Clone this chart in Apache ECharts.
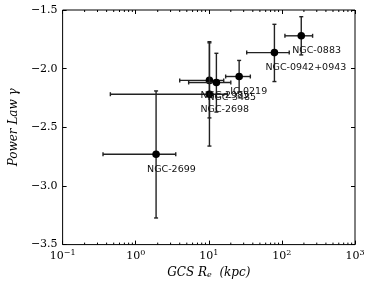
<!DOCTYPE html>
<html><head><meta charset="utf-8">
<script src="https://cdn.jsdelivr.net/npm/echarts@6/dist/echarts.min.js"></script>
<style>html,body{margin:0;padding:0;background:#fff}#c{width:374px;height:284px}</style>
</head><body><div id="c"></div>
<script>
var names = ['NGC-0883','NGC-0942+0943','IC-0219','NGC-2985','NGC-3485','NGC-2698','NGC-2699'];
var xVals = [184, 79, 26, 10.2, 12.7, 10.2, 1.9];
var xLow  = [110, 33, 17, 4.0, 5.3, 0.45, 0.357];
var xHigh = [263, 126, 37, 16, 20, 18, 3.53];
var yVals = [-1.72, -1.863, -2.067, -2.10, -2.118, -2.218, -2.73];
var yLow  = [-1.883, -2.110, -2.20, -2.42, -2.37, -2.66, -3.273];
var yHigh = [-1.557, -1.622, -1.93, -1.78, -1.869, -1.77, -2.19];
var xTicks = [0.1, 1, 10, 100, 1000];
var yTicks = [-3.5, -3.0, -2.5, -2.0, -1.5];

var data = names.map(function(n,i){return [xVals[i], yVals[i], xLow[i], xHigh[i], yLow[i], yHigh[i], n];});
var minorTicks = [];
for (var k = -1; k < 3; k++) for (var m = 2; m <= 9; m++) minorTicks.push([m*Math.pow(10,k)]);

var chart = echarts.init(document.getElementById('c'), null, {renderer:'canvas'});
var serif = '"DejaVu Serif", "Liberation Serif", serif';
var sup = {'-1':'−1','0':'0','1':'1','2':'2','3':'3'};
var lineCol = '#222';
chart.setOption({
  animation:false,
  grid:{left:56,right:19,top:10,bottom:39,show:true,borderColor:'#000',borderWidth:1},
  xAxis:[{
    type:'log', logBase:10, min:0.1, max:1000, position:'bottom',
    axisLine:{show:false}, splitLine:{show:false},
    axisTick:{show:true,inside:true,length:4,lineStyle:{color:'#000'}},
    axisLabel:{margin:4, formatter:function(v){var e=Math.round(Math.log10(v));return '{b|10}{s|'+sup[String(e)]+'}';},
      rich:{b:{fontFamily:serif,fontSize:11,color:'#000'},s:{fontFamily:serif,fontSize:8,color:'#000',verticalAlign:'top',padding:[0,0,7,0]}}},
    name:'{i|GCS R}{sub|e}{i|  (kpc)}', nameLocation:'middle', nameGap:20,
    nameTextStyle:{rich:{i:{fontFamily:serif,fontStyle:'italic',fontSize:12,color:'#000'},sub:{fontFamily:serif,fontStyle:'italic',fontSize:8,color:'#000',verticalAlign:'bottom',padding:[5,0,0,0]}}}
  },{
    type:'log', logBase:10, min:0.1, max:1000, position:'top',
    axisLine:{show:false}, splitLine:{show:false}, axisLabel:{show:false},
    axisTick:{show:true,inside:true,length:4,lineStyle:{color:'#000'}}
  }],
  yAxis:[{
    type:'value', min:-3.5, max:-1.5, interval:0.5,
    axisLine:{show:false}, splitLine:{show:false},
    axisTick:{show:true,inside:true,length:4,lineStyle:{color:'#000'}},
    axisLabel:{margin:5,fontFamily:serif,fontSize:11,color:'#000',formatter:function(v){return (v<0?'−':'')+Math.abs(v).toFixed(1);}},
    name:'Power Law γ', nameLocation:'middle', nameGap:38,
    nameTextStyle:{fontFamily:serif,fontStyle:'italic',fontSize:12,color:'#000'}
  },{
    type:'value', min:-3.5, max:-1.5, interval:0.5, position:'right',
    axisLine:{show:false}, splitLine:{show:false}, axisLabel:{show:false},
    axisTick:{show:true,inside:true,length:4,lineStyle:{color:'#000'}}
  }],
  series:[
    {type:'custom', data:minorTicks, silent:true, z:3,
     renderItem:function(params,api){
       var p = api.coord([api.value(0), -3.5]);
       var q = api.coord([api.value(0), -1.5]);
       return {type:'group',children:[
         {type:'line',shape:{x1:p[0],y1:p[1],x2:p[0],y2:p[1]-2},style:{stroke:'#000',lineWidth:1}},
         {type:'line',shape:{x1:q[0],y1:q[1],x2:q[0],y2:q[1]+2},style:{stroke:'#000',lineWidth:1}}
       ]};
     }},
    {type:'custom', data:data, z:4,
     renderItem:function(params,api){
       var c = api.coord([api.value(0), api.value(1)]);
       var l = api.coord([api.value(2), api.value(1)]);
       var r = api.coord([api.value(3), api.value(1)]);
       var b = api.coord([api.value(0), api.value(4)]);
       var t = api.coord([api.value(0), api.value(5)]);
       var cap = 2, st = {stroke:lineCol,lineWidth:1.4};
       return {type:'group',children:[
         {type:'line',shape:{x1:l[0],y1:c[1],x2:r[0],y2:r[1]},style:st},
         {type:'line',shape:{x1:l[0],y1:c[1]-cap,x2:l[0],y2:c[1]+cap},style:st},
         {type:'line',shape:{x1:r[0],y1:c[1]-cap,x2:r[0],y2:c[1]+cap},style:st},
         {type:'line',shape:{x1:c[0],y1:t[1],x2:c[0],y2:b[1]},style:st},
         {type:'line',shape:{x1:c[0]-cap,y1:t[1],x2:c[0]+cap,y2:t[1]},style:st},
         {type:'line',shape:{x1:c[0]-cap,y1:b[1],x2:c[0]+cap,y2:b[1]},style:st},
         {type:'circle',shape:{cx:c[0],cy:c[1],r:3.8},style:{fill:'#000'}}
       ]};
     }},
    {type:'custom', data:data, z:6,
     renderItem:function(params,api){
       var c = api.coord([api.value(0), api.value(1)]);
       return {type:'text',style:{text:names[params.dataIndex],x:c[0]-9,y:c[1]+15,textAlign:'left',textVerticalAlign:'middle',
         font:'9.5px "DejaVu Sans", sans-serif',fill:'#111'}};
     }}
  ]
});
</script></body></html>
